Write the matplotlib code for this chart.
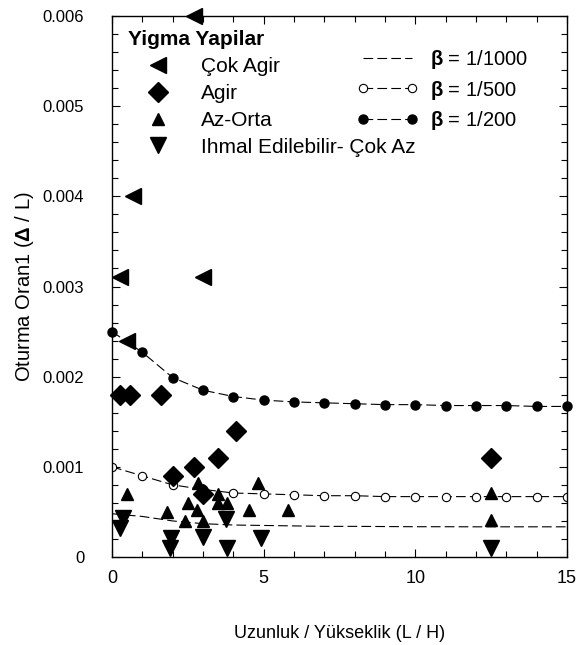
import numpy as np
import matplotlib
matplotlib.use("Agg")
import matplotlib.pyplot as plt
from matplotlib.ticker import MultipleLocator, FuncFormatter

plt.rcParams['font.family'] = ['Liberation Sans', 'DejaVu Sans']
plt.rcParams['mathtext.fontset'] = 'custom'
plt.rcParams['mathtext.rm'] = 'Liberation Sans'
plt.rcParams['mathtext.bf'] = 'Liberation Sans:bold'
plt.rcParams['lines.scale_dashes'] = False

# beta curves (L/H = 0..15)
x_curve = np.arange(0, 16)
beta_1000 = [0.00048, 0.00045, 0.0004, 0.00037, 0.000355, 0.00035, 0.000345, 0.00034,
             0.00034, 0.000338, 0.000336, 0.000336, 0.000335, 0.000335, 0.000335, 0.000335]
beta_500 = [0.001, 0.0009, 0.0008, 0.00075, 0.00071, 0.0007, 0.00069, 0.00068,
            0.00068, 0.00067, 0.00067, 0.00067, 0.00067, 0.00067, 0.00067, 0.00067]
beta_200 = [0.0025, 0.00227, 0.00199, 0.00185, 0.00178, 0.00174, 0.00172, 0.00171,
            0.0017, 0.00169, 0.00169, 0.00168, 0.00168, 0.00168, 0.00167, 0.00167]

# observed damage
cok_agir_x = [2.7, 0.7, 0.25, 3.0, 0.5]
cok_agir_y = [0.006, 0.004, 0.0031, 0.0031, 0.0024]
agir_x = [0.25, 0.6, 1.6, 4.1, 3.5, 2.7, 2.0, 3.0, 12.5]
agir_y = [0.0018, 0.0018, 0.0018, 0.0014, 0.0011, 0.001, 0.0009, 0.0007, 0.0011]
az_orta_x = [0.5, 2.85, 4.8, 3.5, 2.5, 3.5, 3.8, 1.8, 2.8, 4.5, 5.8, 2.4, 3.0, 12.5, 12.5]
az_orta_y = [0.0007, 0.00082, 0.00082, 0.0007, 0.0006, 0.0006, 0.0006, 0.0005, 0.00052,
             0.00052, 0.00052, 0.0004, 0.0004, 0.00071, 0.00041]
ihmal_x = [0.35, 0.25, 1.95, 1.9, 3.0, 3.75, 3.8, 4.9, 12.5]
ihmal_y = [0.00043, 0.00032, 0.00021, 0.0001, 0.00022, 0.00042, 0.0001, 0.00021, 0.0001]

damage_labels = ['Çok Agir', 'Agir', 'Az-Orta', 'Ihmal Edilebilir- Çok Az']
beta_labels = [r'$\mathbf{\beta}$ = 1/1000', r'$\mathbf{\beta}$ = 1/500', r'$\mathbf{\beta}$ = 1/200']

fig = plt.figure(figsize=(5.78, 6.45), dpi=100)
ax = fig.add_axes([0.1938, 0.1364, 0.7872, 0.8388])

dash = (0, (7, 3))
l1, = ax.plot(x_curve, beta_1000, color='black', lw=0.8, linestyle=dash)
l2, = ax.plot(x_curve, beta_500, color='black', lw=0.8, linestyle=dash,
              marker='o', ms=6, mfc='white', mec='black', mew=0.8)
l3, = ax.plot(x_curve, beta_200, color='black', lw=0.8, linestyle=dash,
              marker='o', ms=6.5, mfc='black', mec='black', clip_on=False)

kw = dict(color='black', linestyle='none', clip_on=False, zorder=5)
s1, = ax.plot(cok_agir_x, cok_agir_y, marker='<', ms=12, **kw)
s2, = ax.plot(agir_x, agir_y, marker='D', ms=10, **kw)
s3, = ax.plot(az_orta_x, az_orta_y, marker='^', ms=8, **kw)
s4, = ax.plot(ihmal_x, ihmal_y, marker='v', ms=12, **kw)

ax.set_xlim(0, 15)
ax.set_ylim(0, 0.006)
ax.xaxis.set_major_locator(MultipleLocator(5))
ax.xaxis.set_minor_locator(MultipleLocator(1))
ax.yaxis.set_major_locator(MultipleLocator(0.001))
ax.yaxis.set_minor_locator(MultipleLocator(0.0002))
ax.yaxis.set_major_formatter(FuncFormatter(lambda v, p: '0' if abs(v) < 1e-9 else f'{v:.3f}'))
ax.tick_params(which='both', direction='in', top=True, right=True, width=0.8)
ax.tick_params(which='major', length=6)
ax.tick_params(which='minor', length=4)
ax.tick_params(axis='x', labelsize=13, pad=9)
ax.tick_params(axis='y', labelsize=12, pad=20)
for sp in ax.spines.values():
    sp.set_linewidth(1.0)

ax.set_xlabel('Uzunluk / Yükseklik (L / H)', fontsize=13, labelpad=28)
ax.set_ylabel(r'Oturma Oran1 ($\mathbf{\Delta}$ / L)', fontsize=14.5, labelpad=5)

leg1 = ax.legend([s1, s2, s3, s4], damage_labels,
                 loc='upper left', bbox_to_anchor=(0.035, 0.974), frameon=False,
                 fontsize=15, title='Yigma Yapilar', alignment='left',
                 title_fontproperties={'weight': 'bold', 'size': 15},
                 handlelength=2.88, handletextpad=0.62, labelspacing=0.38,
                 borderpad=0, borderaxespad=0, numpoints=1)
ax.add_artist(leg1)

ax.legend([l1, l2, l3], beta_labels,
          loc='upper left', bbox_to_anchor=(0.5385, 0.94), frameon=False,
          fontsize=14.5, handlelength=3.03, handletextpad=0.6, labelspacing=0.35,
          borderpad=0, borderaxespad=0, numpoints=2)

fig.savefig('out.png', dpi=100)
